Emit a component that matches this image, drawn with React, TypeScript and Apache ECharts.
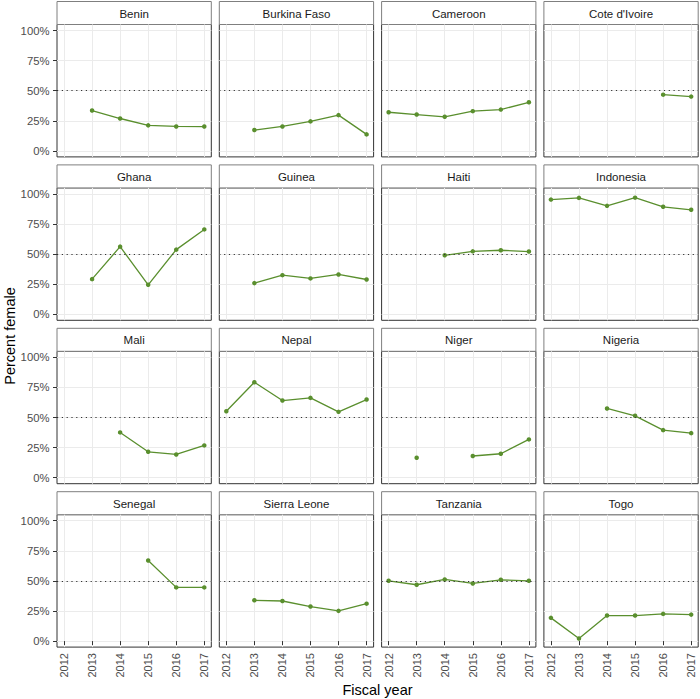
import React, { useEffect, useRef } from "react";
import * as echarts from "echarts";

const years = [2012, 2013, 2014, 2015, 2016, 2017];
const countries = [
  "Benin", "Burkina Faso", "Cameroon", "Cote d'Ivoire",
  "Ghana", "Guinea", "Haiti", "Indonesia",
  "Mali", "Nepal", "Niger", "Nigeria",
  "Senegal", "Sierra Leone", "Tanzania", "Togo",
];
const benin = [null, 33.5, 26.9, 21.2, 20.3, 20.2];
const burkinaFaso = [null, 17.3, 20.3, 24.5, 29.7, 13.7];
const cameroon = [32.1, 30.2, 28.3, 33.0, 34.3, 40.4];
const coteDIvoire = [null, null, null, null, 46.7, 45.1];
const ghana = [null, 29.2, 56.2, 24.5, 53.7, 70.5];
const guinea = [null, 25.9, 32.5, 29.8, 33.1, 28.9];
const haiti = [null, null, 49.0, 52.3, 53.2, 52.1];
const indonesia = [95.3, 96.7, 90.1, 96.9, 89.3, 86.8];
const mali = [null, null, 37.6, 21.5, 19.3, 26.8];
const nepal = [55.2, 79.3, 64.1, 66.3, 54.7, 64.9];
const niger = [null, 16.6, null, 18.0, 19.9, 31.8];
const nigeria = [null, null, 57.5, 51.4, 39.5, 37.0];
const senegal = [null, null, null, 66.9, 44.6, 44.6];
const sierraLeone = [null, 33.9, 33.3, 28.7, 25.1, 31.1];
const tanzania = [50.1, 46.8, 51.2, 47.9, 50.9, 50.1];
const togo = [19.3, 2.2, 21.2, 21.2, 22.6, 22.0];
const allValues = [
  benin, burkinaFaso, cameroon, coteDIvoire,
  ghana, guinea, haiti, indonesia,
  mali, nepal, niger, nigeria,
  senegal, sierraLeone, tanzania, togo,
];
const yTicks = [0, 25, 50, 75, 100];
const referenceLine = 50;

const FONT = "'Liberation Sans', Arial, Helvetica, sans-serif";
const GREEN = "#5a8f2e";

export default function App() {
  const ref = useRef<HTMLDivElement>(null);
  useEffect(() => {
    if (!ref.current) return;
    const chart = echarts.init(ref.current, undefined, { renderer: "svg" });
    const colLeft = (c: number) => 57 + c * 162.3;
    const rowTop = (r: number) => 1.5 + r * 163.4;
    const stripH = 23;
    const plotW = 154.3;
    const plotH = 132.4;

    const grids: any[] = [];
    const xAxes: any[] = [];
    const yAxes: any[] = [];
    const series: any[] = [];
    const graphics: any[] = [];

    countries.forEach((name, i) => {
      const r = Math.floor(i / 4);
      const c = i % 4;
      const left = colLeft(c);
      const top = rowTop(r) + stripH;
      grids.push({
        left, top, width: plotW, height: plotH,
        show: true, borderColor: "#333333", borderWidth: 1, backgroundColor: "#ffffff",
      });
      const bottomRow = r === 3;
      const leftCol = c === 0;
      xAxes.push({
        type: "value", gridIndex: i, min: 2011.75, max: 2017.25,
        axisLine: { show: false },
        axisTick: { show: bottomRow, length: 4, lineStyle: { color: "#333333" }, customValues: years },
        axisLabel: {
          show: bottomRow, rotate: 90, customValues: years, fontSize: 11, color: "#4d4d4d",
          fontFamily: FONT, margin: 6, formatter: (v: number) => String(v),
        },
        splitLine: { show: true, lineStyle: { color: "#ebebeb", width: 1 } },
      });
      yAxes.push({
        type: "value", gridIndex: i, min: -5, max: 105,
        axisLine: { show: false },
        axisTick: { show: leftCol, length: 4, lineStyle: { color: "#333333" }, customValues: yTicks },
        axisLabel: {
          show: leftCol, customValues: yTicks, fontSize: 11.3, color: "#4d4d4d",
          fontFamily: FONT, margin: 7.5, formatter: (v: number) => v + "%",
        },
        splitLine: { show: true, lineStyle: { color: "#ebebeb", width: 1 } },
      });
      series.push({
        type: "line", xAxisIndex: i, yAxisIndex: i,
        data: years.map((y, k) => [y, allValues[i][k]]),
        connectNulls: false,
        showSymbol: true, symbol: "circle", symbolSize: 4.5,
        lineStyle: { color: GREEN, width: 1.3 },
        itemStyle: { color: GREEN },
        markLine: {
          silent: true, symbol: ["none", "none"], label: { show: false },
          lineStyle: { color: "#333333", type: [1.2, 3.6], width: 1.2 },
          emphasis: { disabled: true },
          data: [{ yAxis: referenceLine }],
        },
      });
      graphics.push({
        type: "rect", shape: { x: left, y: rowTop(r), width: plotW, height: stripH },
        style: { fill: "#ffffff", stroke: "#7f7f7f", lineWidth: 1 },
      });
      graphics.push({
        type: "text", x: left + plotW / 2, y: rowTop(r) + stripH / 2 + 0.5,
        style: { text: name, fill: "#1a1a1a", font: `11.5px ${FONT}`, align: "center", verticalAlign: "middle" },
      });
    });

    graphics.push({
      type: "text", x: 10, y: 336, rotation: Math.PI / 2,
      style: { text: "Percent female", fill: "#000000", font: `14.5px ${FONT}`, align: "center", verticalAlign: "middle" },
    });
    graphics.push({
      type: "text", x: 377.5, y: 690,
      style: { text: "Fiscal year", fill: "#000000", font: `14.5px ${FONT}`, align: "center", verticalAlign: "middle" },
    });

    chart.setOption({
      animation: false,
      backgroundColor: "#ffffff",
      textStyle: { fontFamily: FONT },
      grid: grids,
      xAxis: xAxes,
      yAxis: yAxes,
      series,
      graphic: graphics,
    });
    return () => chart.dispose();
  }, []);
  return (
    <div
      ref={ref}
      style={{ position: "absolute", left: 0, top: 0, width: 700, height: 699 }}
    />
  );
}
